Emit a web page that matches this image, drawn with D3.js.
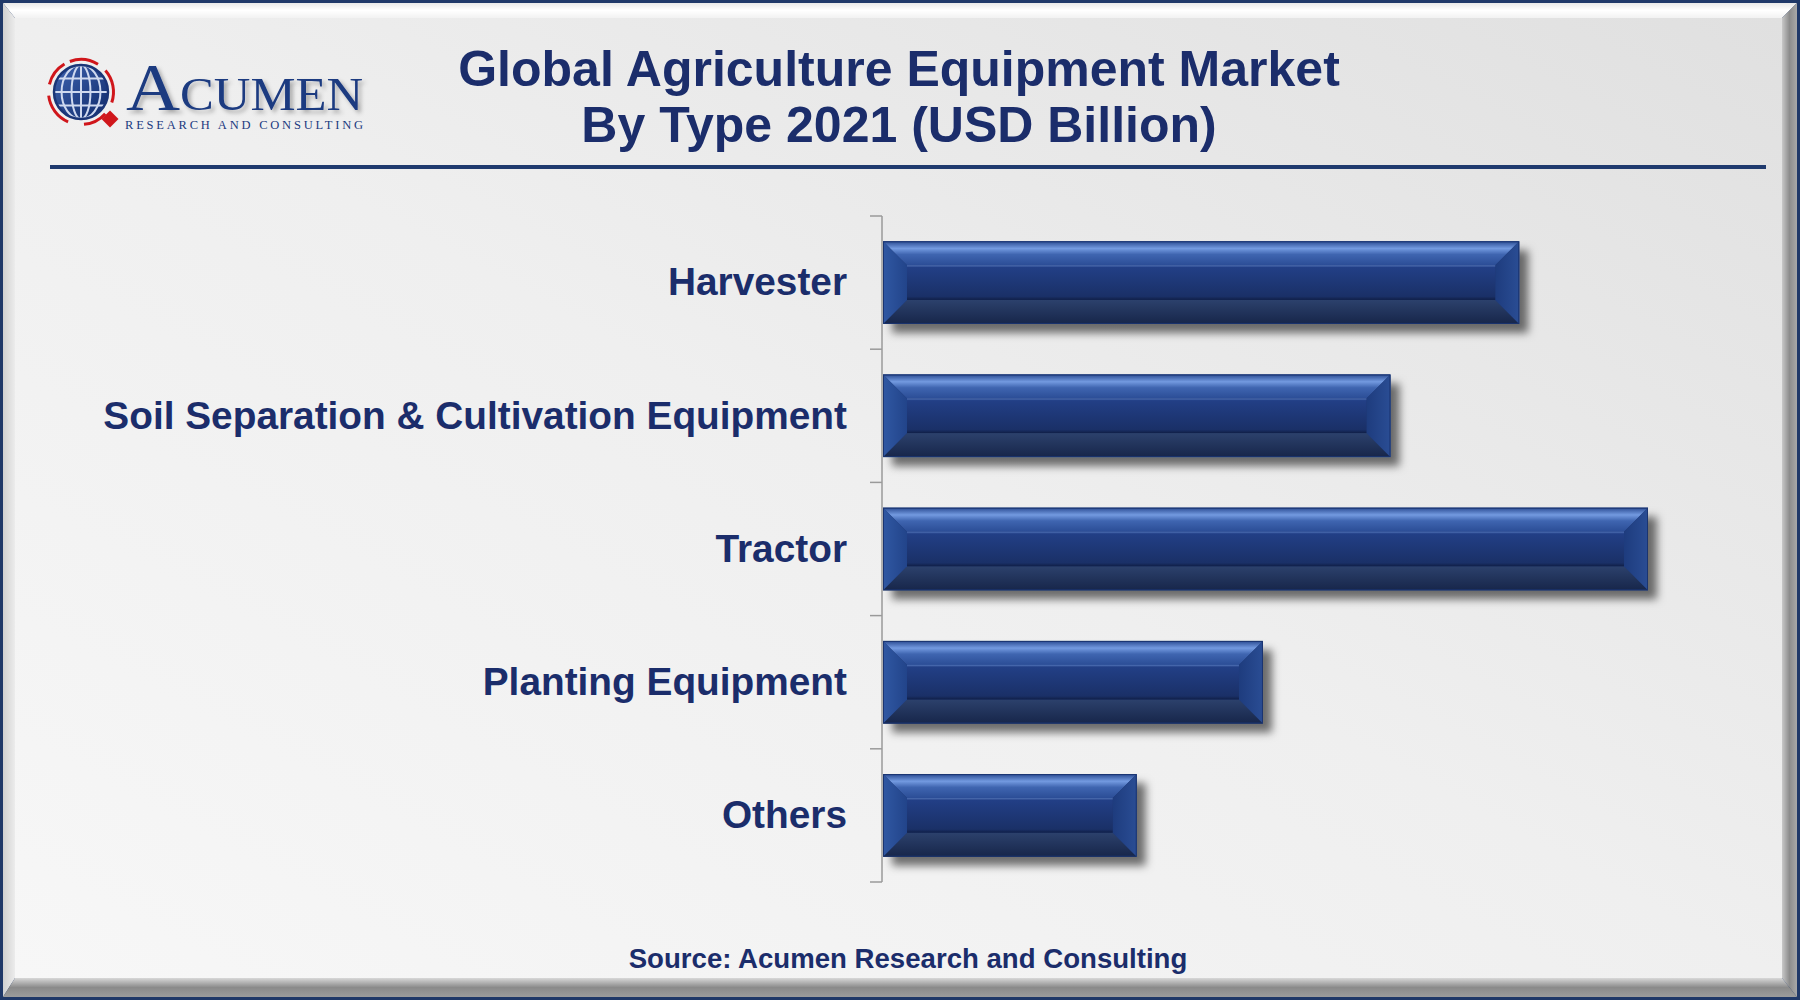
<!DOCTYPE html>
<html><head><meta charset="utf-8">
<script src="https://cdn.jsdelivr.net/npm/d3@7"></script>
<style>html,body{margin:0;padding:0;background:#fff;}svg{display:block;}</style>
</head><body>
<svg id="chart" width="1800" height="1000"></svg>
<script>
const categories = ["Harvester", "Soil Separation & Cultivation Equipment", "Tractor", "Planting Equipment", "Others"];
const values = [49.9, 39.8, 60.0, 29.8, 19.9];
const titleLines = ["Global Agriculture Equipment Market", "By Type 2021 (USD Billion)"];
const sourceText = "Source: Acumen Research and Consulting";

const W = 1800, H = 1000;
const svg = d3.select("#chart");
const defs = svg.append("defs");
const navy = "#1b2d6b";

function lg(id, x1, y1, x2, y2, stops) {
  const g = defs.append("linearGradient").attr("id", id)
    .attr("x1", x1).attr("y1", y1).attr("x2", x2).attr("y2", y2);
  stops.forEach(s => g.append("stop").attr("offset", s[0]).attr("stop-color", s[1]));
}
lg("bgGrad", 0, 1, 1, 0, [[0, "#f7f7f7"], [0.5, "#efefef"], [1, "#e0e0e0"]]);
lg("frameTop", 0, 0, 0, 1, [[0, "#e8e8e8"], [0.5, "#ffffff"], [1, "#f2f2f2"]]);
lg("frameLeft", 0, 0, 1, 0, [[0, "#d0d0d0"], [1, "#ececec"]]);
lg("frameRight", 0, 0, 1, 0, [[0, "#c8c8c8"], [0.5, "#8c8c8c"], [1, "#a8a8a8"]]);
lg("frameBottom", 0, 0, 0, 1, [[0, "#d8d8d8"], [0.5, "#8a8a8a"], [1, "#9c9c9c"]]);
lg("barTop", 0, 0, 0, 1, [[0, "#2a4b92"], [0.3, "#739ae0"], [0.55, "#3f65b0"], [1, "#2b4d96"]]);
lg("barBottom", 0, 0, 0, 1, [[0, "#2c416c"], [1, "#17264a"]]);
lg("barLeft", 0, 0, 1, 0, [[0, "#3058a3"], [1, "#22448a"]]);
lg("barRight", 0, 0, 1, 0, [[0, "#1e3c7e"], [1, "#2a4d94"]]);
lg("barInner", 0, 0, 0, 1, [[0, "#5274b8"], [0.06, "#223f86"], [0.9, "#1a3067"], [1, "#101f47"]]);
lg("globeGrad", 0, 0, 1, 1, [[0, "#3f63b0"], [1, "#0f2a6a"]]);

const sh = defs.append("filter").attr("id", "barShadow").attr("x", "-5%").attr("y", "-20%").attr("width", "115%").attr("height", "160%");
sh.append("feDropShadow").attr("dx", 9).attr("dy", 9).attr("stdDeviation", 4).attr("flood-color", "#000").attr("flood-opacity", 0.55);
const tsh = defs.append("filter").attr("id", "textShadow").attr("x", "-10%").attr("y", "-30%").attr("width", "130%").attr("height", "170%");
tsh.append("feDropShadow").attr("dx", 3).attr("dy", 3).attr("stdDeviation", 2).attr("flood-color", "#000").attr("flood-opacity", 0.3);

// Frame
svg.append("rect").attr("x", 0).attr("y", 0).attr("width", W).attr("height", H).attr("fill", "#1f3868");
const fo = {x0: 3, y0: 3, x1: W - 3, y1: H - 3};
const fi = {x0: 15, y0: 18, x1: W - 18, y1: H - 22};
const poly = pts => pts.map(p => p.join(",")).join(" ");
svg.append("polygon").attr("points", poly([[fo.x0, fo.y0], [fo.x1, fo.y0], [fi.x1, fi.y0], [fi.x0, fi.y0]])).attr("fill", "url(#frameTop)");
svg.append("polygon").attr("points", poly([[fo.x0, fo.y0], [fi.x0, fi.y0], [fi.x0, fi.y1], [fo.x0, fo.y1]])).attr("fill", "url(#frameLeft)");
svg.append("polygon").attr("points", poly([[fo.x1, fo.y0], [fo.x1, fo.y1], [fi.x1, fi.y1], [fi.x1, fi.y0]])).attr("fill", "url(#frameRight)");
svg.append("polygon").attr("points", poly([[fo.x0, fo.y1], [fi.x0, fi.y1], [fi.x1, fi.y1], [fo.x1, fo.y1]])).attr("fill", "url(#frameBottom)");
svg.append("rect").attr("x", fi.x0).attr("y", fi.y0).attr("width", fi.x1 - fi.x0).attr("height", fi.y1 - fi.y0).attr("fill", "url(#bgGrad)");

// Logo
const logo = svg.append("g");
const gcx = 81, gcy = 92, gr = 27;
const arc = d3.arc();
[[-0.35, 0.55], [0.85, 1.9], [2.3, 3.05], [3.55, 4.6], [4.95, 5.75]].forEach(a => {
  logo.append("path").attr("transform", `translate(${gcx},${gcy})`)
    .attr("d", arc({innerRadius: gr + 4, outerRadius: gr + 7, startAngle: a[0], endAngle: a[1]}))
    .attr("fill", "#d0161b");
});
logo.append("circle").attr("cx", gcx).attr("cy", gcy).attr("r", gr).attr("fill", "url(#globeGrad)");
const gridG = logo.append("g").attr("fill", "none").attr("stroke", "#cfd9ef").attr("stroke-width", 2);
[0.35, 0.72].forEach(f => gridG.append("ellipse").attr("cx", gcx).attr("cy", gcy).attr("rx", gr * f).attr("ry", gr));
[-0.5, 0, 0.5].forEach(f => {
  const yy = gcy + f * gr; const half = Math.sqrt(gr * gr - (f * gr) ** 2);
  gridG.append("line").attr("x1", gcx - half).attr("x2", gcx + half).attr("y1", yy).attr("y2", yy);
});
gridG.append("line").attr("x1", gcx).attr("x2", gcx).attr("y1", gcy - gr).attr("y2", gcy + gr);
logo.append("circle").attr("cx", gcx).attr("cy", gcy).attr("r", gr).attr("fill", "none").attr("stroke", "#1a3577").attr("stroke-width", 2.5);
logo.append("rect").attr("x", -6).attr("y", -6).attr("width", 12).attr("height", 12)
  .attr("transform", `translate(110,119) rotate(45)`).attr("fill", "#d0161b");
const brand = logo.append("text").attr("x", 126).attr("y", 110).attr("fill", "#1b3a80")
  .attr("font-family", "'Liberation Serif','DejaVu Serif',serif").attr("filter", "url(#textShadow)")
  .attr("textLength", 237).attr("lengthAdjust", "spacingAndGlyphs");
brand.append("tspan").attr("font-size", 68).text("A");
brand.append("tspan").attr("font-size", 46).text("CUMEN");
logo.append("text").attr("x", 125).attr("y", 129).attr("fill", "#1b3a80")
  .attr("font-family", "'Liberation Serif','DejaVu Serif',serif").attr("font-size", 12.5)
  .attr("textLength", 238).attr("lengthAdjust", "spacing").text("RESEARCH AND CONSULTING");

// Title
const title = svg.append("text").attr("text-anchor", "middle").attr("fill", navy)
  .attr("font-family", "'Liberation Sans',Arial,sans-serif").attr("font-weight", "bold").attr("font-size", 50);
titleLines.forEach((t, i) => title.append("tspan").attr("x", 899).attr("y", 86 + i * 56).text(t));

// Header rule
svg.append("line").attr("x1", 50).attr("x2", 1766).attr("y1", 167).attr("y2", 167)
  .attr("stroke", "#1f3a6e").attr("stroke-width", 4);

// Scales
const x = d3.scaleLinear().domain([0, 60]).range([883, 1648]);
const y = d3.scaleBand().domain(categories).range([216, 882]).paddingInner(0.38).paddingOuter(0.19);

// Axis (band boundary ticks)
const axisX = 882;
const axisG = svg.append("g").attr("stroke", "#9a9a9a").attr("stroke-width", 1.5);
axisG.append("line").attr("x1", axisX).attr("x2", axisX).attr("y1", y.range()[0]).attr("y2", y.range()[1]);
const bounds = categories.map(c => y(c) - y.step() * y.paddingInner() / 2).concat([y.range()[1]]);
bounds.forEach(b => axisG.append("line").attr("x1", axisX - 12).attr("x2", axisX).attr("y1", b).attr("y2", b));

// Labels
svg.append("g").selectAll("text").data(categories).join("text")
  .attr("x", 847).attr("y", d => y(d) + y.bandwidth() / 2).attr("dy", "0.33em")
  .attr("text-anchor", "end").attr("fill", navy)
  .attr("font-family", "'Liberation Sans',Arial,sans-serif").attr("font-weight", "bold").attr("font-size", 38.8)
  .text(d => d);

// Bars
const bev = 24;
const bars = svg.append("g").selectAll("g").data(categories.map((c, i) => ({c, v: values[i]}))).join("g");
bars.each(function(d) {
  const g = d3.select(this);
  const x0 = x(0), x1 = x(d.v), y0 = y(d.c), h = y.bandwidth(), y1 = y0 + h;
  g.append("rect").attr("x", x0).attr("y", y0).attr("width", x1 - x0).attr("height", h)
    .attr("fill", "#1d3670").attr("filter", "url(#barShadow)");
  g.append("polygon").attr("points", poly([[x0, y0], [x1, y0], [x1 - bev, y0 + bev], [x0 + bev, y0 + bev]])).attr("fill", "url(#barTop)");
  g.append("polygon").attr("points", poly([[x0, y1], [x1, y1], [x1 - bev, y1 - bev], [x0 + bev, y1 - bev]])).attr("fill", "url(#barBottom)");
  g.append("polygon").attr("points", poly([[x0, y0], [x0 + bev, y0 + bev], [x0 + bev, y1 - bev], [x0, y1]])).attr("fill", "url(#barLeft)");
  g.append("polygon").attr("points", poly([[x1, y0], [x1, y1], [x1 - bev, y1 - bev], [x1 - bev, y0 + bev]])).attr("fill", "url(#barRight)");
  g.append("rect").attr("x", x0 + bev).attr("y", y0 + bev).attr("width", x1 - x0 - 2 * bev).attr("height", h - 2 * bev)
    .attr("fill", "url(#barInner)");
  g.append("rect").attr("x", x0 + 0.5).attr("y", y0 + 0.5).attr("width", x1 - x0 - 1).attr("height", h - 1)
    .attr("fill", "none").attr("stroke", "#1a3470").attr("stroke-width", 1);
});

// Source
svg.append("text").attr("x", 908).attr("y", 968).attr("text-anchor", "middle").attr("fill", navy)
  .attr("font-family", "'Liberation Sans',Arial,sans-serif").attr("font-weight", "bold").attr("font-size", 27.6)
  .text(sourceText);
</script>
</body></html>
